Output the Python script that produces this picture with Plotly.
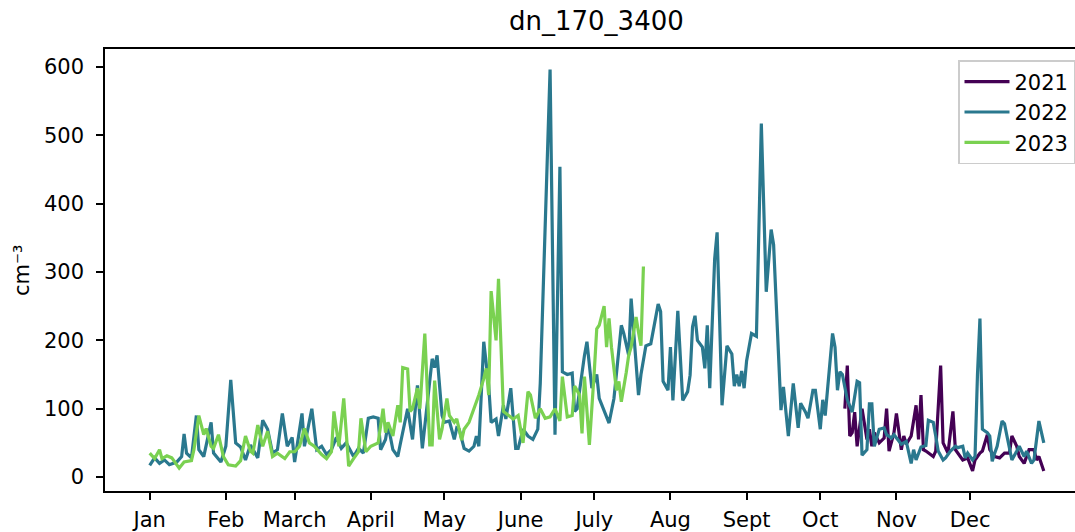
import plotly.graph_objects as go

# Daily number concentration, dn_170_3400, by day of year (0 = Jan 1)
days_2021 = [283, 284, 285, 286, 287, 288, 290, 292, 293, 294, 295, 297, 299, 300, 301,
             303, 304, 306, 307, 308, 310, 312, 313, 314, 315, 316, 319, 320, 322, 323,
             325, 327, 328, 330, 331, 333, 335, 336, 338, 339, 341, 342, 344, 346, 348,
             350, 351, 353, 354, 356, 358, 360, 361, 362, 364]
vals_2021 = [100, 163, 60, 65, 95, 45, 100, 55, 70, 45, 65, 50, 57, 100, 38,
             65, 93, 40, 60, 48, 60, 105, 55, 120, 40, 38, 30, 38, 163, 50,
             35, 96, 40, 30, 25, 28, 9, 25, 35, 38, 62, 40, 30, 28, 35,
             35, 60, 45, 30, 20, 40, 40, 25, 30, 9]

days_2022 = [0, 2, 4, 6, 8, 11, 13, 14, 15, 17, 19, 20, 22, 25, 26, 29, 31, 33, 35, 37,
             39, 41, 44, 46, 48, 50, 52, 54, 56, 58, 59, 62, 63, 66, 68, 70, 72, 74, 76, 78,
             80, 83, 85, 87, 89, 91, 93, 94, 96, 97, 99, 101, 102, 105, 107, 109, 111, 115, 116, 117,
             119, 120, 122, 124, 125, 126, 128, 130, 132, 133, 134, 136, 138, 139, 141, 142, 144, 145, 147, 149,
             150, 152, 154, 156, 158, 159, 163, 165, 167, 168, 170, 172, 173, 174, 177, 178, 180, 182, 183, 187,
             189, 192, 193, 195, 196, 199, 200, 202, 204, 207, 208, 209, 211, 212, 213, 215, 217, 219, 220, 221,
             222, 223, 225, 226, 227, 228, 230, 231, 233, 235, 237, 238, 239, 240, 241, 242, 243, 245, 247, 249,
             251, 253, 254, 257, 258, 260, 262, 264, 265, 267, 268, 270, 271, 273, 274, 275, 278, 279, 280, 281,
             282, 284, 286, 288, 289, 290, 292, 293, 294, 295, 297, 299, 300, 302, 303, 306, 308, 310, 311, 312,
             314, 316, 317, 319, 320, 321, 323, 324, 326, 328, 329, 331, 332, 333, 335, 336, 337, 338, 339, 341,
             342, 343, 344, 345, 347, 348, 349, 351, 353, 354, 356, 357, 359, 360, 362, 364]
vals_2022 = [17, 28, 20, 25, 18, 22, 30, 63, 35, 28, 90, 40, 30, 80, 35, 22, 45, 142, 50, 44,
             25, 47, 28, 83, 70, 35, 40, 93, 45, 58, 22, 93, 45, 100, 40, 45, 33, 40, 58, 42,
             50, 30, 42, 35, 86, 88, 86, 40, 55, 77, 40, 30, 48, 100, 55, 134, 42, 173, 160, 178,
             90, 80, 82, 55, 72, 70, 42, 38, 45, 60, 45, 198, 134, 80, 85, 60, 105, 85, 130, 42,
             42, 70, 60, 55, 70, 137, 596, 62, 454, 154, 150, 152, 96, 100, 178, 198, 130, 150, 115, 79,
             115, 222, 210, 178, 261, 120, 150, 192, 195, 253, 242, 140, 127, 190, 112, 243, 112, 125, 149, 220,
             236, 200, 190, 159, 222, 130, 319, 358, 105, 192, 180, 133, 150, 133, 155, 130, 170, 210, 206, 517,
             271, 362, 340, 98, 132, 60, 137, 72, 108, 95, 86, 127, 127, 70, 113, 90, 210, 190, 127, 154,
             150, 113, 95, 140, 138, 32, 40, 107, 107, 45, 70, 72, 62, 57, 62, 48, 52, 20, 40, 25,
             44, 46, 83, 80, 60, 38, 25, 28, 38, 45, 43, 45, 28, 35, 25, 30, 150, 232, 70, 65,
             60, 23, 35, 45, 82, 78, 60, 25, 38, 45, 30, 38, 20, 25, 82, 50]

days_2023 = [0, 2, 4, 5, 7, 9, 12, 14, 17, 18, 20, 22, 23, 25, 26, 28, 30, 32, 35, 37,
             39, 41, 42, 44, 46, 48, 50, 52, 55, 57, 59, 61, 63, 65, 67, 70, 72, 74, 75, 77,
             79, 81, 83, 85, 86, 88, 90, 93, 95, 96, 97, 99, 101, 102, 103, 105, 106, 107, 109, 110,
             112, 114, 115, 116, 118, 119, 121, 122, 124, 125, 127, 128, 130, 132, 134, 136, 137, 138, 139, 141,
             142, 144, 146, 148, 150, 152, 154, 155, 157, 159, 161, 163, 165, 167, 168, 169, 170, 172, 173, 175,
             176, 177, 179, 181, 182, 183, 185, 186, 187, 188, 190, 191, 192, 194, 195, 196, 198, 199, 200, 201]
vals_2023 = [35, 27, 40, 27, 31, 28, 13, 22, 24, 40, 90, 62, 71, 45, 42, 62, 30, 18, 16, 24,
             60, 38, 35, 76, 45, 67, 30, 35, 27, 37, 37, 45, 71, 50, 45, 33, 27, 37, 96, 45,
             115, 16, 27, 37, 86, 37, 45, 50, 100, 65, 80, 60, 105, 80, 160, 158, 96, 100, 130, 100,
             210, 47, 47, 141, 55, 70, 115, 90, 80, 85, 54, 70, 80, 100, 120, 144, 159, 120, 272, 200,
             290, 96, 90, 85, 90, 50, 125, 120, 86, 100, 86, 88, 100, 82, 147, 120, 88, 90, 133, 120,
             64, 147, 47, 155, 217, 222, 250, 190, 232, 190, 127, 140, 110, 153, 178, 190, 234, 212, 192, 308]

month_starts = [0, 31, 59, 90, 120, 151, 181, 212, 243, 273, 304, 334]
month_labels = ["Jan", "Feb", "March", "April", "May", "June",
                "July", "Aug", "Sept", "Oct", "Nov", "Dec"]
y_ticks = [0, 100, 200, 300, 400, 500, 600]

series = [
    ("2021", days_2021, vals_2021, "#440154"),
    ("2022", days_2022, vals_2022, "#2a788e"),
    ("2023", days_2023, vals_2023, "#7ad151"),
]

FONT = "DejaVu Sans"
TICK_SIZE = 21

fig = go.Figure()
for name, xs, ys, color in series:
    fig.add_trace(go.Scatter(
        x=xs, y=ys, mode="lines", name=name, legendgroup=name,
        line=dict(color=color, width=3.2),
    ))

fig.update_layout(
    width=1075, height=532,
    margin=dict(l=105, r=0, t=49, b=39),
    paper_bgcolor="white", plot_bgcolor="white",
    font=dict(family=FONT, size=TICK_SIZE, color="black"),
    showlegend=True,
    legend=dict(
        x=1.0, y=0.975, xanchor="right", yanchor="top",
        bgcolor="rgba(255,255,255,0.8)", bordercolor="#cccccc", borderwidth=1.5,
        font=dict(family=FONT, size=TICK_SIZE, color="black"),
        tracegroupgap=0, itemwidth=45,
    ),
    xaxis=dict(
        range=[-18.2, 376.7],
        tickmode="array", tickvals=month_starts, ticktext=month_labels,
        showgrid=False, zeroline=False,
        showline=True, linecolor="black", linewidth=1.6, mirror=True,
        ticks="outside", ticklen=7, tickwidth=1.6, tickcolor="black",
        ticklabelstandoff=2,
    ),
    yaxis=dict(
        range=[-20.4, 626.2],
        tickmode="array", tickvals=y_ticks,
        showgrid=False, zeroline=False,
        showline=True, linecolor="black", linewidth=1.6,
        ticks="outside", ticklen=7, tickwidth=1.6, tickcolor="black",
        ticklabelstandoff=8,
    ),
    annotations=[
        dict(text="dn_170_3400", xref="paper", yref="paper", x=0.5067, y=1,
             xanchor="center", yanchor="bottom", yshift=11, showarrow=False,
             font=dict(family=FONT, size=26, color="black")),
        dict(text="cm⁻³", xref="paper", yref="paper", x=-0.0856, y=0.5,
             xanchor="center", yanchor="middle", textangle=-90, showarrow=False,
             font=dict(family=FONT, size=TICK_SIZE, color="black")),
    ],
)

fig.write_html("out.html")
